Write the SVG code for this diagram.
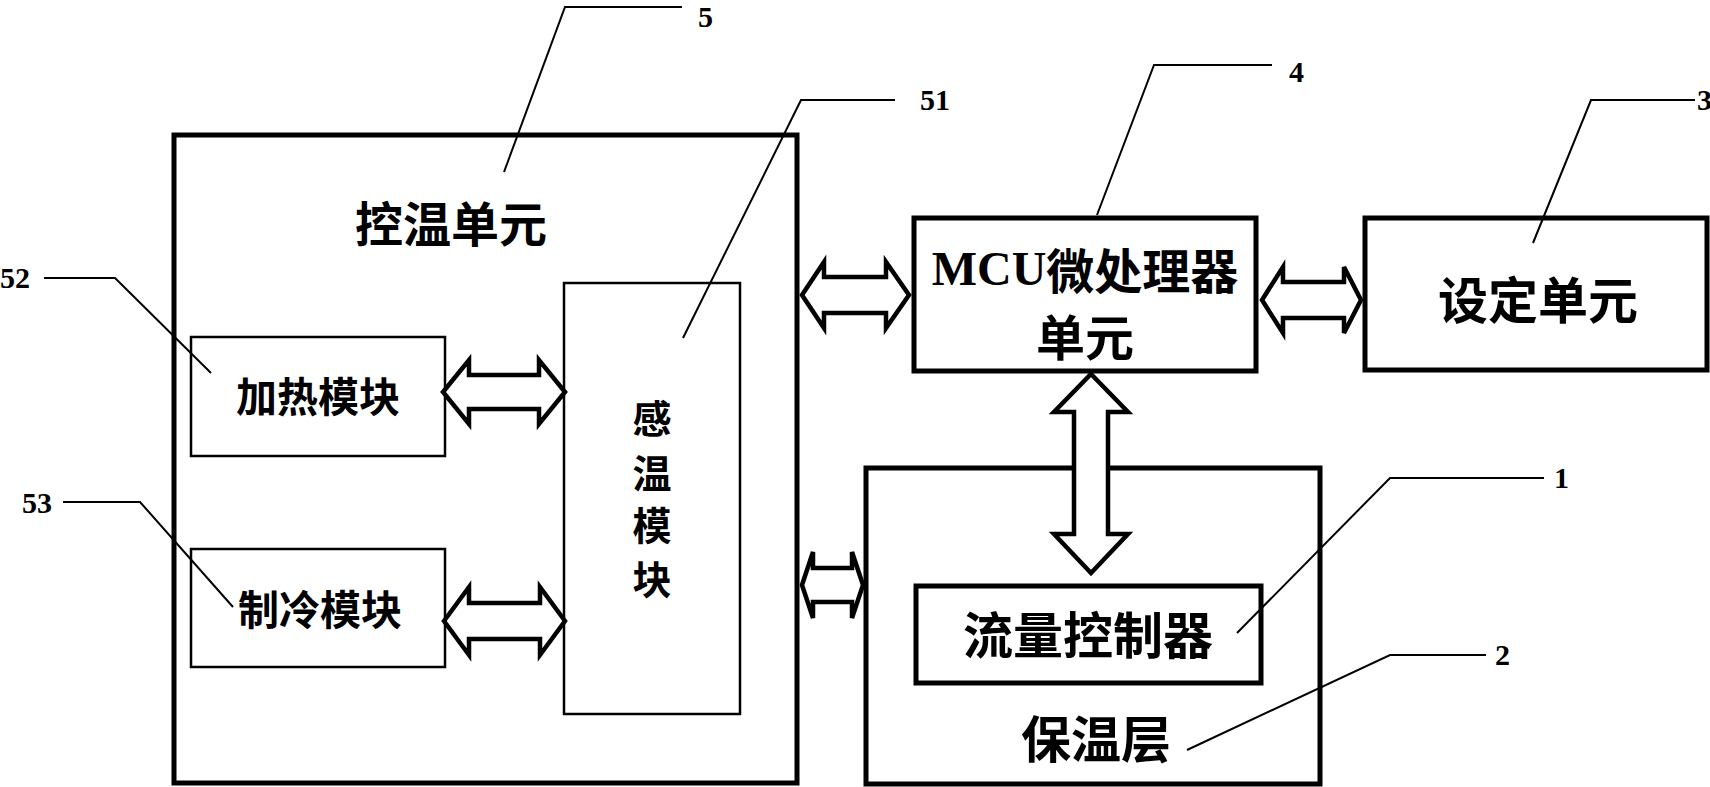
<svg xmlns="http://www.w3.org/2000/svg" width="1710" height="787" viewBox="0 0 1710 787">
<style>
.thick{fill:none;stroke:#000;stroke-width:5}
.thin{fill:none;stroke:#000;stroke-width:2.5}
.arr{fill:#fff;stroke:#000;stroke-width:4.5;stroke-linejoin:miter}
.lead{fill:none;stroke:#000;stroke-width:2}
.cj{font-family:"Noto Sans CJK SC","Noto Sans CJK JP",sans-serif;font-weight:700;text-anchor:middle;dominant-baseline:central;fill:#000}
.num{font-family:"Liberation Serif","Times New Roman",serif;font-weight:700;font-size:30px;fill:#000}
.mcu{font-family:"Liberation Serif","Noto Sans CJK SC",serif;font-weight:700;text-anchor:middle;dominant-baseline:central;fill:#000}
</style>
<rect width="1710" height="787" fill="#fff"/>
<g id="node-5">
<rect class="thick" x="174" y="135" width="623" height="648"/>
<text class="cj" x="451" y="221" font-size="48">控温单元</text>
</g>
<g id="node-52">
<rect class="thin" x="191" y="337" width="254" height="119"/>
<text class="cj" x="318" y="394" font-size="41">加热模块</text>
</g>
<g id="node-53">
<rect class="thin" x="191" y="549" width="254" height="118"/>
<text class="cj" x="320" y="607" font-size="41">制冷模块</text>
</g>
<g id="node-51">
<rect class="thin" x="564" y="283" width="176" height="431"/>
<text class="cj" x="652" y="416" font-size="39">感</text>
<text class="cj" x="652" y="471" font-size="39">温</text>
<text class="cj" x="652" y="523" font-size="39">模</text>
<text class="cj" x="652" y="577" font-size="39">块</text>
</g>
<g id="node-4">
<rect class="thick" x="914" y="218" width="342" height="153"/>
<text class="mcu" x="1085" y="268" font-size="48">MCU<tspan font-family="Noto Sans CJK SC,sans-serif">微处理器</tspan></text>
<text class="cj" x="1085" y="334" font-size="49">单元</text>
</g>
<g id="node-3">
<rect class="thick" x="1365" y="218" width="342" height="152"/>
<text class="cj" x="1538" y="297" font-size="50">设定单元</text>
</g>
<g id="node-2">
<rect class="thick" x="866" y="468" width="454" height="316"/>
<text class="cj" x="1096" y="736" font-size="50">保温层</text>
</g>
<g id="node-1">
<rect class="thick" x="916" y="586" width="345" height="97"/>
<text class="cj" x="1088" y="632" font-size="50">流量控制器</text>
</g>
<g id="connectors">
<polygon class="arr" points="443,392 469,360 469,375 539,375 539,360 565,392 539,424 539,409 469,409 469,424"/>
<polygon class="arr" points="444,621 469,587 469,603 540,603 540,587 565,621 540,655 540,639 469,639 469,655"/>
<polygon class="arr" points="802,295 824,262 824,277 886,277 886,262 909,295 886,328 886,313 824,313 824,328"/>
<polygon class="arr" points="1262,300 1283,267 1283,282 1344,282 1344,267 1361,300 1344,333 1344,318 1283,318 1283,333"/>
<polygon class="arr" points="802,585 813,552 813,568 852,568 852,552 863,585 852,618 852,602 813,602 813,618"/>
<polygon class="arr" points="1091,374 1128,412 1108,412 1108,534 1128,534 1091,573 1054,534 1074,534 1074,412 1054,412"/>
</g>
<g id="leaders">
<polyline class="lead" points="682,7 565,7 504,172"/>
<polyline class="lead" points="895,100 801,100 683,338"/>
<polyline class="lead" points="1272,65 1154,65 1097,215"/>
<polyline class="lead" points="1695,100 1591,100 1533,243"/>
<polyline class="lead" points="1544,478 1390,478 1237,633"/>
<polyline class="lead" points="1486,655 1390,655 1187,750"/>
<polyline class="lead" points="44,278 115,278 211,373"/>
<polyline class="lead" points="63,502 140,502 233,607"/>
<text class="num" x="698" y="27">5</text>
<text class="num" x="920" y="110">51</text>
<text class="num" x="1289" y="82">4</text>
<text class="num" x="1697" y="110">3</text>
<text class="num" x="1554" y="488">1</text>
<text class="num" x="1495" y="665">2</text>
<text class="num" x="0" y="288">52</text>
<text class="num" x="22" y="513">53</text>
</g>
</svg>
